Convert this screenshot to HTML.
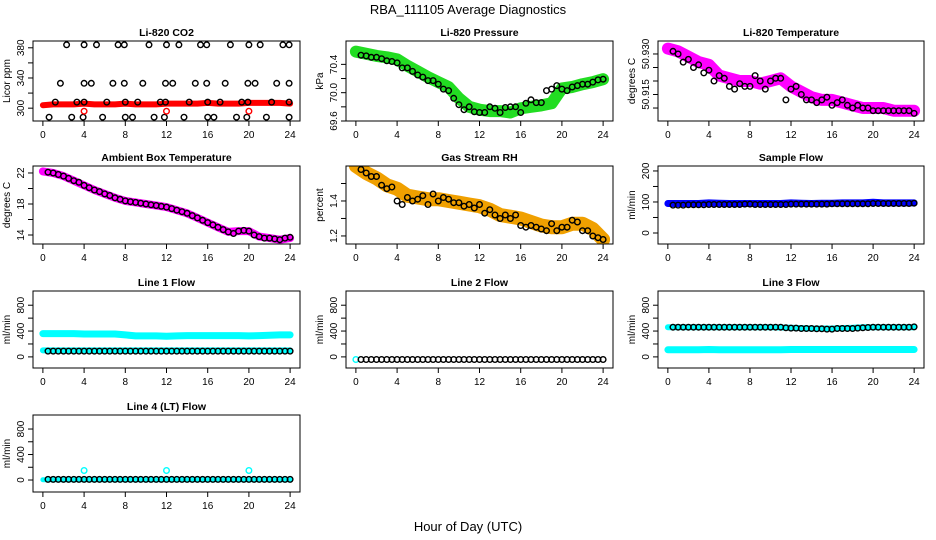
<!DOCTYPE html>
<html><head><meta charset="utf-8"><style>
html,body{margin:0;padding:0;background:#fff}
svg{display:block;font-family:"Liberation Sans",sans-serif}
</style></head><body>
<svg id="c" width="936" height="540" viewBox="0 0 936 540">
<text x="468" y="14" text-anchor="middle" font-size="13">RBA_111105  Average Diagnostics</text>
<text x="468" y="531" text-anchor="middle" font-size="13">Hour of Day (UTC)</text>
</svg>
<script>
const hours = [0,1,2,3,4,5,6,7,8,9,10,11,12,13,14,15,16,17,18,19,20,21,22,23,24];
const halfHours = [0.5,1,1.5,2,2.5,3,3.5,4,4.5,5,5.5,6,6.5,7,7.5,8,8.5,9,9.5,10,10.5,11,11.5,12,12.5,13,13.5,14,14.5,15,15.5,16,16.5,17,17.5,18,18.5,19,19.5,20,20.5,21,21.5,22,22.5,23,23.5,24];
const xTicks = [0,4,8,12,16,20,24];

const co2Red = [304,305,305,305,306,305,305,305,306,305,305,305,306,306,306,306,307,306,306,306,307,307,307,307,306];
const co2BlackX = [2.3,4.0,5.2,7.3,7.9,10.3,12.0,13.2,15.3,15.9,18.2,20.0,21.1,23.3,23.9, 1.7,4.0,4.7,6.8,7.9,9.7,11.9,12.6,14.8,15.9,17.7,19.9,20.6,22.7,23.9, 1.2,3.3,4.0,6.2,8.0,9.2,11.4,11.9,14.2,16.0,17.2,19.3,19.9,22.2,23.9, 0.6,2.8,3.9,5.8,8.0,8.7,10.8,11.8,13.7,16.0,16.6,18.8,19.8,21.7,23.9];
const co2BlackY = [384,384,384,384,384,384,384,384,384,384,384,384,384,384,384, 333,333,333,333,333,333,333,333,333,333,333,333,333,333,333, 308,308,308,308,308,308,308,308,308,308,308,308,308,308,308, 288,288,288,288,288,288,288,288,288,288,288,288,288,288,288];
const co2OutX = [4,12,20];
const co2OutY = [296,296,296];

const presGreen = [70.58,70.55,70.52,70.5,70.47,70.38,70.3,70.22,70.15,70.08,69.92,69.8,69.76,69.74,69.74,69.72,69.78,69.8,69.82,69.85,70.06,70.08,70.12,70.15,70.19];
const presBlack = [70.53,70.52,70.5,70.5,70.48,70.45,70.44,70.42,70.35,70.35,70.3,70.25,70.22,70.17,70.17,70.12,70.05,70.03,69.92,69.83,69.76,69.8,69.73,69.72,69.72,69.8,69.78,69.72,69.79,69.8,69.8,69.72,69.85,69.9,69.86,69.86,70.03,70.05,70.1,70.05,70.03,70.08,70.1,70.12,70.12,70.15,70.18,70.19];

const tempMag = [50.932,50.931,50.929,50.927,50.926,50.922,50.921,50.920,50.920,50.919,50.920,50.921,50.918,50.916,50.914,50.913,50.913,50.912,50.911,50.910,50.910,50.910,50.909,50.909,50.909];
const tempBlack = [50.931,50.930,50.927,50.928,50.925,50.926,50.923,50.924,50.920,50.922,50.921,50.918,50.917,50.919,50.918,50.918,50.922,50.920,50.917,50.920,50.921,50.921,50.913,50.917,50.918,50.915,50.913,50.913,50.912,50.913,50.914,50.911,50.912,50.913,50.911,50.910,50.911,50.910,50.910,50.909,50.909,50.909,50.909,50.909,50.909,50.909,50.909,50.908];

const ambMag = [22.2,22.0,21.6,21.0,20.4,19.8,19.3,18.8,18.4,18.2,18.0,17.8,17.6,17.2,16.8,16.2,15.6,15.0,14.4,14.5,14.5,13.8,13.6,13.4,13.6];
const ambBlack = [22.1,22.0,21.8,21.6,21.3,21.0,20.8,20.4,20.1,19.8,19.6,19.3,19.1,18.8,18.6,18.4,18.3,18.2,18.1,18.0,17.9,17.8,17.7,17.6,17.4,17.2,17.0,16.8,16.5,16.2,15.9,15.6,15.3,15.0,14.7,14.4,14.2,14.5,14.6,14.5,14.0,13.8,13.6,13.6,13.5,13.4,13.6,13.7];

const rhOrange = [1.6,1.56,1.53,1.49,1.47,1.43,1.42,1.41,1.41,1.40,1.39,1.38,1.37,1.35,1.32,1.31,1.30,1.28,1.26,1.25,1.25,1.27,1.27,1.24,1.18];
const rhBlack = [1.58,1.56,1.54,1.54,1.49,1.47,1.48,1.4,1.38,1.42,1.40,1.41,1.43,1.38,1.44,1.40,1.42,1.41,1.39,1.39,1.37,1.38,1.36,1.38,1.33,1.35,1.32,1.3,1.32,1.30,1.32,1.26,1.25,1.26,1.25,1.24,1.23,1.27,1.23,1.25,1.25,1.29,1.28,1.23,1.23,1.2,1.19,1.18];

const sampleBlue = [95,95,95,95,97,96,95,95,95,95,95,95,97,96,95,96,96,97,97,97,99,97,97,97,97];
const sampleBlack = [90,90,90,91,91,91,91,92,92,92,92,92,92,92,93,93,92,92,92,92,92,92,92,93,93,93,93,93,93,93,93,94,94,94,94,94,94,94,94,95,95,95,95,95,95,95,95,96];

const line1CyanHi = [360,360,360,360,355,355,355,355,340,325,325,325,320,325,330,330,330,330,330,330,325,330,335,340,340];
const line1CyanLo = [100,100,100,100,100,100,100,100,100,100,100,100,100,100,100,100,100,100,100,100,100,100,100,100,100];
const line1Black = [90,90,90,90,90,90,90,90,90,90,90,90,90,90,90,90,90,90,90,90,90,90,90,90,90,90,90,90,90,90,90,90,90,90,90,90,90,90,90,90,90,90,90,90,90,90,90,90];

const line2Cyan = [-40];
const line2Black = [-40,-40,-40,-40,-40,-40,-40,-40,-40,-40,-40,-40,-40,-40,-40,-40,-40,-40,-40,-40,-40,-40,-40,-40,-40,-40,-40,-40,-40,-40,-40,-40,-40,-40,-40,-40,-40,-40,-40,-40,-40,-40,-40,-40,-40,-40,-40,-40];

const line3CyanHi = [460,460,460,460,460,460,460,460,460,460,460,455,450,445,440,440,440,445,450,460,460,460,460,460,460];
const line3CyanLo = [110,110,110,110,115,110,110,110,110,110,110,110,115,115,115,115,115,115,115,115,115,115,115,115,115];
const line3Black = [460,460,460,460,460,460,460,460,460,460,460,460,460,460,460,460,460,460,460,460,460,460,450,445,445,440,440,440,435,435,430,430,440,440,440,440,445,450,455,460,460,460,460,460,460,460,460,465];

const line4Cyan = [5,5,5,5,5,5,5,5,5,5,5,5,5,5,5,5,5,5,5,5,5,5,5,5,5];
const line4OutX = [4,12,20];
const line4OutY = [150,150,150];
const line4Black = [10,10,10,10,10,10,10,10,10,10,10,10,10,10,10,10,10,10,10,10,10,10,10,10,10,10,10,10,10,10,10,10,10,10,10,10,10,10,10,10,10,10,10,10,10,10,10,10];

const flowTicks = [0,200,400,600,800];
const flowLabels = [0,400,800];

const NS = "http://www.w3.org/2000/svg";
const svg = document.getElementById('c');
function mk(tag, attrs, parent){
  const e = document.createElementNS(NS, tag);
  for (const k in attrs) e.setAttribute(k, attrs[k]);
  (parent||svg).appendChild(e);
  return e;
}
const colL=[33,346,658], colR=[300,613,924];
const rowT=[41,166,291,415], rowB=[121,244,368,492];

function panel(p){
  const L=colL[p.col], R=colR[p.col], T=rowT[p.row], B=rowB[p.row];
  const g = mk('g',{});
  
  
  const sx = v => L + (v + 0.96) / 25.92 * (R - L);
  const sy = v => B - (v - p.ylim[0]) / (p.ylim[1] - p.ylim[0]) * (B - T);
  const cid = 'clip-' + p.name;
  const cp = mk('clipPath',{id:cid}, g);
  mk('rect',{x:L,y:T,width:R-L,height:B-T}, cp);
  const plot = mk('g',{'clip-path':'url(#'+cid+')'}, g);
  (p.bands||[]).forEach(b=>{
    const pts = b.y.map((v,i)=>sx(b.x[i]).toFixed(1)+','+sy(v).toFixed(1)).join(' ');
    const pl = mk('polyline',{points:pts,fill:'none',stroke:b.color,'stroke-width':b.w,'stroke-linejoin':'round','stroke-linecap':'round'}, plot);
    
    
  });
  (p.pts||[]).forEach(s=>{
    s.y.forEach((v,i)=>{
      const c = mk('circle',{cx:sx(s.x[i]).toFixed(1),cy:sy(v).toFixed(1),r:s.r||2.8,fill:'none',stroke:s.color,'stroke-width':1.4}, plot);
      
      
    });
  });
  const box = mk('rect',{x:L,y:T,width:R-L,height:B-T,fill:'none',stroke:'#000','stroke-width':1}, g);
  
  
  xTicks.forEach(t=>{
    mk('line',{x1:sx(t),x2:sx(t),y1:B,y2:B+5,stroke:'#000'}, g);
    const tx = mk('text',{x:sx(t),y:B+17,'text-anchor':'middle','font-size':10}, g);
    tx.textContent = t;
    
    
  });
  p.yticks.forEach(t=>{ mk('line',{x1:L-5,x2:L,y1:sy(t),y2:sy(t),stroke:'#000'}, g); });
  p.ylabels.forEach(t=>{
    const y = sy(t), x = L-9;
    const tx = mk('text',{x:x,y:y,'text-anchor':'middle','font-size':10,transform:'rotate(-90 '+x+' '+y+')'}, g);
    tx.textContent = t;
    
    
  });
  const yx = L-23, yy=(T+B)/2;
  const yl = mk('text',{x:yx,y:yy,'text-anchor':'middle','font-size':10,transform:'rotate(-90 '+yx+' '+yy+')'}, g);
  yl.textContent = p.ylab;
  
  
  const tt = mk('text',{x:(L+R)/2,y:T-5,'text-anchor':'middle','font-size':10.5,'font-weight':'bold'}, g);
  tt.textContent = p.title;
  
  
}
const flowLim=[-172,1020];
panel({name:'co2-panel',col:0,row:0,title:'Li-820 CO2',ylab:'Licor ppm',ylim:[283,389],yticks:[300,320,340,360,380],ylabels:[300,340,380],
  bands:[{name:'co2-band',x:hours,y:co2Red,color:'#ff0000',w:6}],
  pts:[{name:'co2-point',x:co2BlackX,y:co2BlackY,color:'#000'},{name:'co2-outlier',x:co2OutX,y:co2OutY,color:'#ff0000'}]});
panel({name:'pressure-panel',col:1,row:0,title:'Li-820 Pressure',ylab:'kPa',ylim:[69.6,70.73],yticks:[69.6,69.8,70.0,70.2,70.4],ylabels:['69.6','70.0','70.4'],
  bands:[{name:'pressure-band',x:hours,y:presGreen,color:'#22dd22',w:12}],
  pts:[{name:'pressure-point',x:halfHours,y:presBlack,color:'#000'}]});
panel({name:'temperature-panel',col:2,row:0,title:'Li-820 Temperature',ylab:'degrees C',ylim:[50.9052,50.9348],yticks:[50.910,50.915,50.920,50.925,50.930],ylabels:['50.915','50.930'],
  bands:[{name:'temperature-band',x:hours,y:tempMag,color:'#ff00ff',w:12}],
  pts:[{name:'temperature-point',x:halfHours,y:tempBlack,color:'#000'}]});
panel({name:'ambient-panel',col:0,row:1,title:'Ambient Box Temperature',ylab:'degrees C',ylim:[12.84,22.9],yticks:[14,16,18,20,22],ylabels:[14,18,22],
  bands:[{name:'ambient-band',x:hours,y:ambMag,color:'#ff00ff',w:8}],
  pts:[{name:'ambient-point',x:halfHours,y:ambBlack,color:'#000'}]});
panel({name:'rh-panel',col:1,row:1,title:'Gas Stream RH',ylab:'percent',ylim:[1.154,1.6],yticks:[1.2,1.3,1.4,1.5],ylabels:['1.2','1.4'],
  bands:[{name:'rh-band',x:hours,y:rhOrange,color:'#f0a000',w:14}],
  pts:[{name:'rh-point',x:halfHours,y:rhBlack,color:'#000'}]});
panel({name:'sample-flow-panel',col:2,row:1,title:'Sample Flow',ylab:'ml/min',ylim:[-35.5,216],yticks:[0,50,100,150,200],ylabels:[0,100,200],
  bands:[{name:'sample-band',x:hours,y:sampleBlue,color:'#0000ff',w:7}],
  pts:[{name:'sample-point',x:halfHours,y:sampleBlack,color:'#000'}]});
panel({name:'line1-panel',col:0,row:2,title:'Line 1 Flow',ylab:'ml/min',ylim:flowLim,yticks:flowTicks,ylabels:flowLabels,
  bands:[{name:'line1-band-high',x:hours,y:line1CyanHi,color:'#00ffff',w:7},{name:'line1-band-low',x:hours,y:line1CyanLo,color:'#00ffff',w:6}],
  pts:[{name:'line1-point',x:halfHours,y:line1Black,color:'#000'}]});
panel({name:'line2-panel',col:1,row:2,title:'Line 2 Flow',ylab:'ml/min',ylim:flowLim,yticks:flowTicks,ylabels:flowLabels,
  pts:[{name:'line2-cyan-point',x:[0],y:line2Cyan,color:'#00ffff'},{name:'line2-point',x:halfHours,y:line2Black,color:'#000'}]});
panel({name:'line3-panel',col:2,row:2,title:'Line 3 Flow',ylab:'ml/min',ylim:flowLim,yticks:flowTicks,ylabels:flowLabels,
  bands:[{name:'line3-band-high',x:hours,y:line3CyanHi,color:'#00ffff',w:6},{name:'line3-band-low',x:hours,y:line3CyanLo,color:'#00ffff',w:7}],
  pts:[{name:'line3-point',x:halfHours,y:line3Black,color:'#000'}]});
panel({name:'line4-panel',col:0,row:3,title:'Line 4 (LT) Flow',ylab:'ml/min',ylim:[-188,1020],yticks:flowTicks,ylabels:flowLabels,
  bands:[{name:'line4-band',x:hours,y:line4Cyan,color:'#00ffff',w:5}],
  pts:[{name:'line4-outlier',x:line4OutX,y:line4OutY,color:'#00ffff'},{name:'line4-point',x:halfHours,y:line4Black,color:'#000'}]});
</script>
</body></html>
